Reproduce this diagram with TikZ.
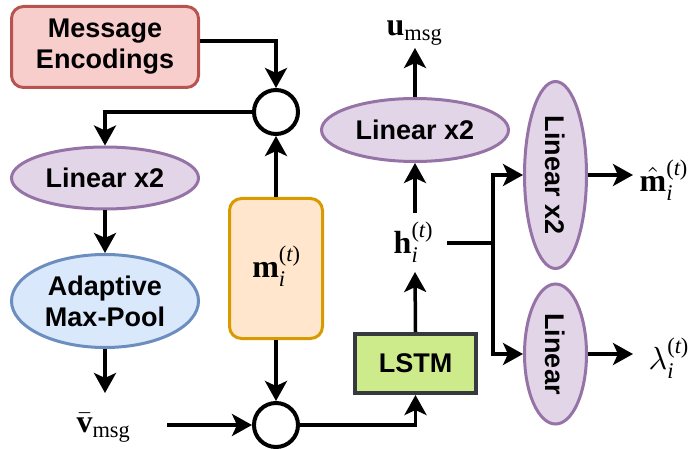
\documentclass[tikz,border=0pt]{standalone}
\usepackage{amsmath}
\usepackage{fontspec}
\setsansfont{Liberation Sans}
\newfontfamily\tms{Liberation Serif}
\newcommand\tbf[1]{\text{\tms\bfseries #1}}
\newcommand\tit[1]{\text{\tms\itshape #1}}
\newcommand\trm[1]{\text{\tms #1}}
\newcommand\tsup{\trm{(}\tit{t}\trm{)}}
\usetikzlibrary{shapes.geometric,arrows.meta}
\definecolor{pinkF}{HTML}{F8CECC}
\definecolor{pinkD}{HTML}{B85450}
\definecolor{purF}{HTML}{E1D5E7}
\definecolor{purD}{HTML}{9673A6}
\definecolor{bluF}{HTML}{DAE8FC}
\definecolor{bluD}{HTML}{6C8EBF}
\definecolor{orgF}{HTML}{FFE6CC}
\definecolor{orgD}{HTML}{D79B00}
\definecolor{grnF}{HTML}{CDEB8B}
\definecolor{grnD}{HTML}{36393D}
\begin{document}
\begin{tikzpicture}[x=1pt,y=-1pt,
  line/.style={line width=3.5pt},
  arr/.style={line width=3.5pt,-{Stealth[length=20pt,width=22pt,inset=5pt]}},
  txt/.style={font=\sffamily\bfseries\fontsize{27}{31}\selectfont,align=center},
  mth/.style={font=\normalsize,inner sep=0pt,scale=3.2},
  ell/.style={ellipse,line width=3pt,inner sep=0pt,draw=purD,fill=purF},
  circ/.style={circle,draw,line width=4pt,minimum size=44pt,inner sep=0pt,fill=white},
]
\path[use as bounding box] (0,0) rectangle (693,449);

% nodes
\node[txt,draw=pinkD,fill=pinkF,line width=3pt,rounded corners=12pt,minimum width=187pt,minimum height=81pt] (me) at (105,47) {Message\\Encodings};
\node[circ] (c1) at (276,112) {};
\node[ell,minimum width=187pt,minimum height=62pt,txt] (lin1) at (105,178) {Linear x2};
\node[ellipse,line width=3pt,inner sep=0pt,draw=bluD,fill=bluF,minimum width=187pt,minimum height=93pt,txt] (amp) at (105,301) {Adaptive\\Max-Pool};
\node[draw=orgD,fill=orgF,line width=3pt,rounded corners=12pt,minimum width=93pt,minimum height=140pt] (m) at (276,268.5) {};
\node[mth] at (277,266) {$\tbf{m}_{\tit{i}}^{\tsup}$};
\node[circ] (c2) at (276,425) {};
\node[mth] (v) at (104,428) {$\bar{\tbf{v}}_{\trm{msg}}$};
\coordinate (vend) at (105,393);
\coordinate (vstart) at (167,425);
\node[txt,draw=grnD,fill=grnF,line width=4pt,minimum width=121pt,minimum height=59pt] (lstm) at (415.5,363.5) {LSTM};
\node[mth] (h) at (414,242) {$\tbf{h}_{\tit{i}}^{\tsup}$};
\coordinate (hb) at (415,272);
\coordinate (ht) at (415,213);
\coordinate (hr) at (447,243);
\coordinate (br) at (493,243);
\node[ell,minimum width=187pt,minimum height=63pt,txt] (lin3) at (415,130) {Linear x2};
\coordinate (uend) at (415,48);
\node[mth] (u) at (415,33) {$\tbf{u}_{\trm{msg}}$};
\node[ell,minimum width=62pt,minimum height=187pt] (lin4) at (555.5,175) {};
\node[txt,rotate=-90] at (555.5,175) {Linear x2};
\node[ell,minimum width=62pt,minimum height=140pt] (lin5) at (555.5,354) {};
\node[txt,rotate=-90] at (555.5,354) {Linear};
\coordinate (mhe) at (633,175);
\coordinate (lae) at (633,354);
\node[mth,anchor=west] (mh) at (639,180) {$\hat{\tbf{m}}_{\tit{i}}^{\tsup}$};
\node[mth,anchor=west] (la) at (648,358) {$\lambda_{\tit{i}}^{\tsup}$};

% connectors
\draw[arr] ([yshift=6pt]me.east) -| (c1.north);
\draw[arr] (c1.west) -| (lin1.north);
\draw[arr] (lin1.south) -- (amp.north);
\draw[arr] (amp.south) -- (vend);
\draw[arr] (vstart) -- (c2.west);
\draw[arr] (m.north) -- (c1.south);
\draw[arr] (m.south) -- (c2.north);
\draw[arr] (c2.east) -| (lstm.south);
\draw[arr] (lstm.north) -- (hb);
\draw[arr] (ht) -- (lin3.south);
\draw[arr] (lin3.north) -- (uend);
\draw[line] (hr) -- (br);
\draw[arr] (br) |- (lin4.west);
\draw[arr] (br) |- (lin5.west);
\draw[arr] (lin4.east) -- (mhe);
\draw[arr] (lin5.east) -- (lae);
\end{tikzpicture}
\end{document}
